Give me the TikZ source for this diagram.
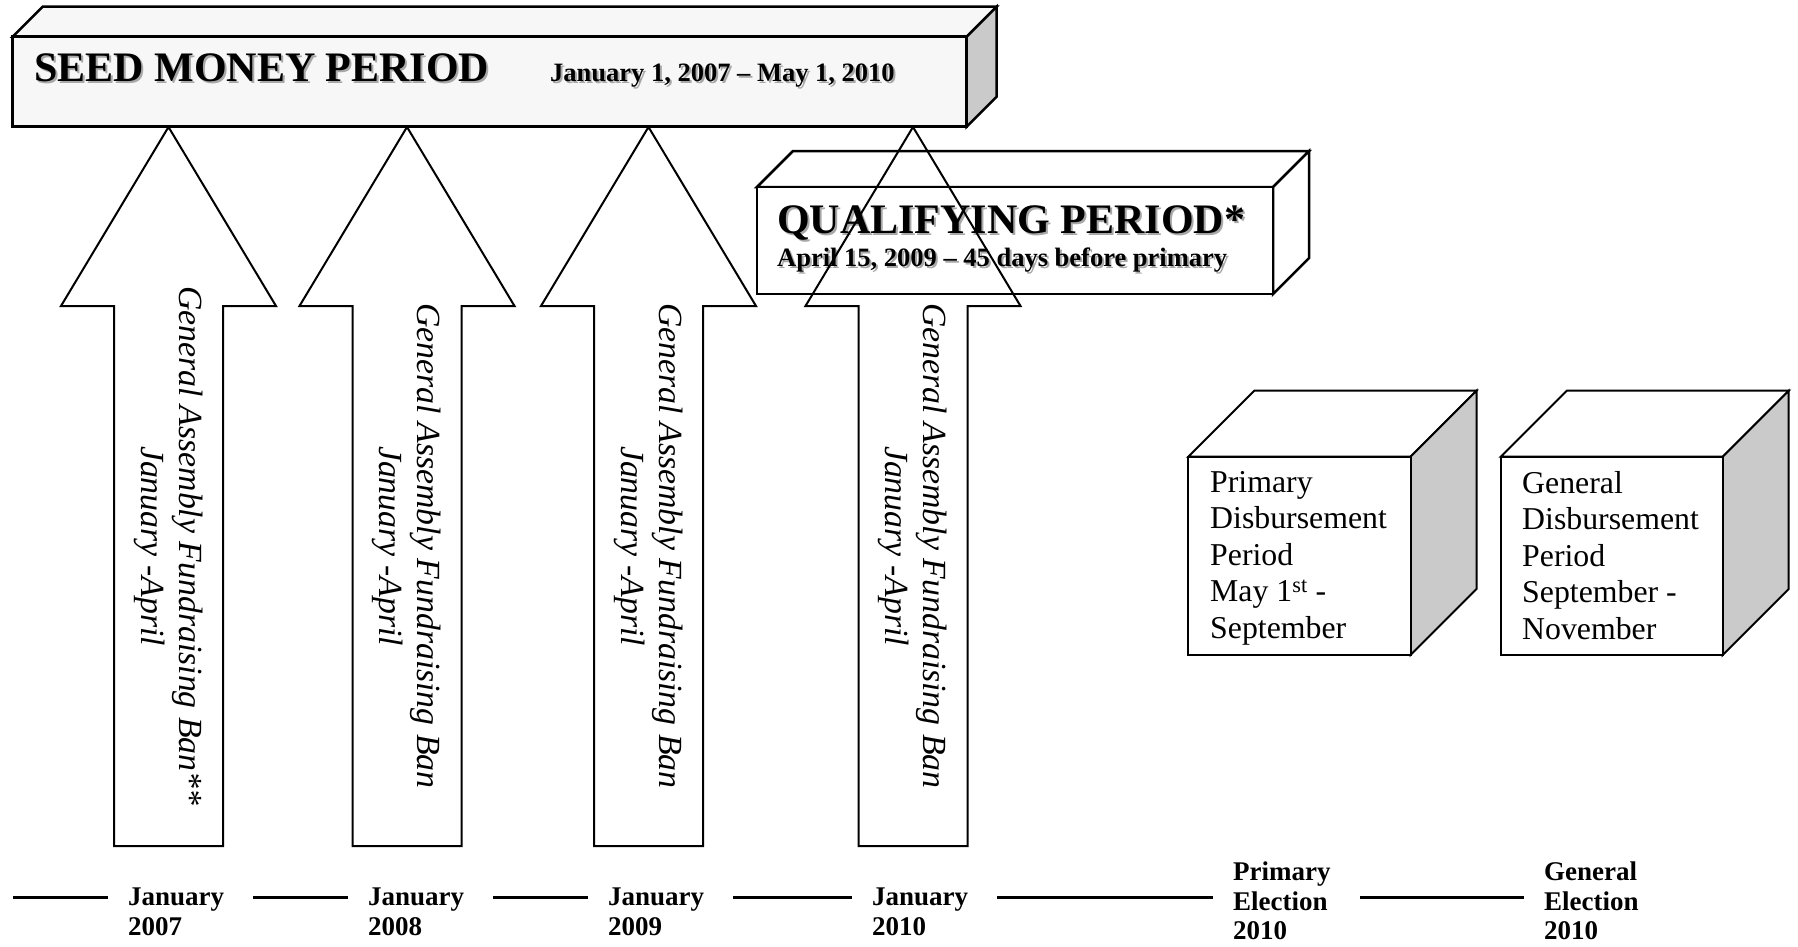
\documentclass[tikz,border=0pt]{standalone}
\usepackage{fontspec}
\setmainfont{Liberation Serif}
\usetikzlibrary{positioning}

\definecolor{lightface}{HTML}{F7F7F7}
\definecolor{sideface}{HTML}{CACACA}
\definecolor{shadowgray}{HTML}{A8A8A8}

\newcommand{\shadowed}[1]{\leavevmode\rlap{\hspace{2pt}\raisebox{-2pt}{\textcolor{shadowgray}{#1}}}#1}

\tikzset{
  boxline/.style={draw=black, line width=2.5pt, line join=miter},
  cubeline/.style={draw=black, line width=2pt, line join=miter},
  arrowline/.style={draw=black, line width=2pt, line join=miter},
  timeline/.style={line width=3pt},
  bigtitle/.style={inner sep=0pt, anchor=base west, font=\fontsize{42}{48}\selectfont\bfseries},
  subtitle/.style={inner sep=0pt, anchor=base west, font=\fontsize{26.5}{30}\selectfont\bfseries},
  bantext/.style={inner sep=0pt, align=center, rotate=-90, font=\fontsize{33.8}{38}\selectfont\itshape},
  boxtext/.style={inner sep=0pt, align=left, anchor=north west, font=\fontsize{31.8}{36.5}\selectfont},
  datelabel/.style={inner sep=0pt, align=left, anchor=north west, font=\fontsize{27}{29.5}\selectfont\bfseries},
}

\begin{document}
\begin{tikzpicture}[x=1pt, y=-1pt]
    \useasboundingbox (0,0) rectangle (1798,947);

    % seed money period
    \filldraw[boxline, fill=lightface] (12.7,36.7) -- (42.7,6.7) -- (996.7,6.7) -- (966.7,36.7) -- cycle;
    \filldraw[boxline, fill=sideface] (966.7,36.7) -- (996.7,6.7) -- (996.7,96.7) -- (966.7,126.7) -- cycle;
    \filldraw[boxline, fill=lightface] (12.7,36.7) rectangle (966.7,126.7);
    \node[bigtitle] (seedtitle) at (34,82) {\shadowed{SEED MONEY PERIOD}};
    \node[subtitle] (seeddates) at (550,82) {\shadowed{January 1, 2007 -- May 1, 2010}};

    % qualifying period
    \filldraw[boxline, fill=white] (757,187) -- (793,151) -- (1309,151) -- (1273,187) -- cycle;
    \filldraw[boxline, fill=white] (1273,187) -- (1309,151) -- (1309,258) -- (1273,294) -- cycle;
    \filldraw[boxline, fill=white] (757,187) rectangle (1273,294);
    \node[bigtitle] (qualtitle) at (777,233) {\shadowed{QUALIFYING PERIOD*}};
    \node[subtitle] (qualdates) at (777,266) {\shadowed{April 15, 2009 -- 45 days before primary}};

    % fundraising bans
    \foreach \cx/\nm/\ban in {168.5/bana/{Ban**}, 407/banb/Ban, 648.5/banc/Ban, 913/band/Ban} {
        \draw[arrowline] (\cx,127) -- (\cx+107.5,306) -- (\cx+54.5,306) -- (\cx+54.5,846)
            -- (\cx-54.5,846) -- (\cx-54.5,306) -- (\cx-107.5,306) -- cycle;
        \node[bantext] (\nm) at (\cx,546) {General Assembly Fundraising \ban\\January -April};
    }

    % disbursement periods
    \filldraw[cubeline, fill=white] (1188.3,456.7) -- (1254.3,390.7) -- (1476.5,390.7) -- (1410.5,456.7) -- cycle;
    \filldraw[cubeline, fill=sideface] (1410.5,456.7) -- (1476.5,390.7) -- (1476.5,589) -- (1410.5,655) -- cycle;
    \filldraw[cubeline, fill=white] (1188.3,456.7) rectangle (1410.5,655);
    \node[boxtext] (primdisb) at (1210,471) {Primary\\Disbursement\\Period\\May 1\textsuperscript{st} -\\September};

    \filldraw[cubeline, fill=white] (1500.7,456.7) -- (1566.7,390.7) -- (1788.7,390.7) -- (1722.7,456.7) -- cycle;
    \filldraw[cubeline, fill=sideface] (1722.7,456.7) -- (1788.7,390.7) -- (1788.7,589) -- (1722.7,655) -- cycle;
    \filldraw[cubeline, fill=white] (1500.7,456.7) rectangle (1722.7,655);
    \node[boxtext] (gendisb) at (1522,471) {General\\Disbursement\\Period\\September -\\November};

    % time line
    \node[datelabel] (jan07) at (128,888) {January\\2007};
    \node[datelabel] (jan08) at (368,888) {January\\2008};
    \node[datelabel] (jan09) at (608,888) {January\\2009};
    \node[datelabel] (jan10) at (872,888) {January\\2010};
    \node[datelabel] (primelec) at (1233,862) {Primary\\Election\\2010};
    \node[datelabel] (genelec) at (1544,862) {General\\Election\\2010};

    \coordinate (tlstart) at (12.8,897);
    \draw[timeline] (tlstart) -- ([xshift=-20pt]jan07.west |- tlstart);
    \foreach \a/\b in {jan07/jan08, jan08/jan09, jan09/jan10, jan10/primelec, primelec/genelec}
        \draw[timeline] ([xshift=29pt]\a.east |- tlstart) -- ([xshift=-20pt]\b.west |- tlstart);
\end{tikzpicture}
\end{document}
